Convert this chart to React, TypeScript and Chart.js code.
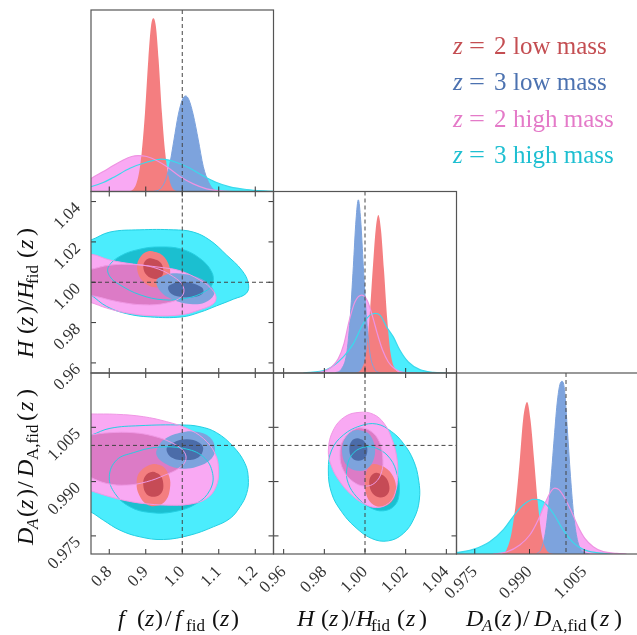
import React, { useEffect, useRef } from "react";
import { Chart, registerables } from "chart.js";
Chart.register(...registerables);

type Pt = [number, number];

// ---------------- axes ----------------
const FIDUCIAL = 1.0;
const F_RANGE: Pt = [0.75, 1.25];
const H_RANGE: Pt = [0.955, 1.045];
const DA_RANGE: Pt = [0.97, 1.02];
const F_TICKS = [0.8, 0.9, 1.0, 1.1, 1.2];
const H_TICKS = [0.96, 0.98, 1.0, 1.02, 1.04];
const DA_TICKS = [0.975, 0.99, 1.005];

// ---------------- legend ----------------
const LEGEND_Z = ["2", "3", "2", "3"];
const LEGEND_MASS = ["low mass", "low mass", "high mass", "high mass"];

// ---------------- 1D marginals (x, normalised height) ----------------
const F_RED: Pt[] = [[0.8476,0],[0.8658,0.0128],[0.8795,0.0826],[0.8887,0.211],[0.8978,0.431],[0.9069,0.725],[0.9142,0.908],[0.9206,0.954],[0.9279,0.908],[0.9353,0.725],[0.9444,0.431],[0.9535,0.211],[0.9627,0.0826],[0.9754,0.0128],[0.9937,0]];
const F_BLUE: Pt[] = [[0.9206,0],[0.9389,0.0128],[0.9526,0.055],[0.9645,0.1376],[0.9773,0.2844],[0.9891,0.422],[1.0001,0.5046],[1.0092,0.5266],[1.0184,0.5046],[1.0302,0.422],[1.0439,0.2844],[1.0576,0.1376],[1.0713,0.055],[1.085,0.0128],[1.1033,0]];
const F_PINK: Pt[] = [[0.7197,0.0275],[0.7517,0.0734],[0.7836,0.11],[0.811,0.143],[0.8384,0.174],[0.8613,0.193],[0.8795,0.198],[0.9024,0.193],[0.9298,0.171],[0.9572,0.1376],[0.9937,0.0826],[1.0302,0.042],[1.0668,0.0147],[1.1033,0.0037],[1.1581,0],[1.2494,0]];
const F_CYAN: Pt[] = [[0.7197,0.0128],[0.7517,0.0275],[0.7836,0.0495],[0.811,0.0771],[0.8567,0.128],[0.9024,0.161],[0.9435,0.178],[0.9846,0.16],[1.0211,0.128],[1.0576,0.0862],[1.0941,0.0495],[1.1307,0.0257],[1.1763,0.011],[1.222,0.0037],[1.2676,0]];

const H_BLUE: Pt[] = [[0.98525,0],[0.98853,0.0239],[0.99099,0.107],[0.99263,0.291],[0.99426,0.586],[0.99558,0.843],[0.99672,0.954],[0.99787,0.843],[0.99918,0.586],[1.00082,0.291],[1.00246,0.107],[1.00459,0.0239],[1.00737,0]];
const H_RED: Pt[] = [[0.99508,0],[0.99836,0.0239],[1.00049,0.107],[1.00213,0.291],[1.00377,0.567],[1.00524,0.788],[1.00656,0.871],[1.00787,0.788],[1.00934,0.567],[1.01098,0.291],[1.01262,0.107],[1.01475,0.0239],[1.01803,0]];
const H_PINK: Pt[] = [[0.97296,0],[0.97951,0.0074],[0.98361,0.0331],[0.98689,0.0792],[0.98968,0.162],[0.9923,0.291],[0.99508,0.392],[0.99836,0.429],[1.00115,0.398],[1.00377,0.309],[1.00606,0.217],[1.00869,0.125],[1.01147,0.0608],[1.01475,0.0221],[1.01884,0.0037],[1.0254,0]];
const H_CYAN: Pt[] = [[0.96968,0],[0.98116,0.0184],[0.98935,0.0884],[0.99426,0.162],[0.99918,0.273],[1.00246,0.319],[1.00492,0.328],[1.00737,0.319],[1.01065,0.254],[1.01393,0.199],[1.0172,0.125],[1.0213,0.0608],[1.027,0.0184],[1.0336,0.0037],[1.0401,0]];

const DA_BLUE: Pt[] = [[0.99191,0],[0.99328,0.0314],[0.99447,0.133],[0.99557,0.336],[0.99666,0.6125],[0.99758,0.834],[0.99831,0.935],[0.99895,0.954],[0.99959,0.908],[1.00032,0.705],[1.00123,0.428],[1.00215,0.2066],[1.00324,0.0683],[1.00471,0.0129],[1.00653,0]];
const DA_RED: Pt[] = [[0.98231,0],[0.98369,0.0221],[0.98506,0.114],[0.98624,0.28],[0.98734,0.52],[0.98825,0.742],[0.98935,0.8395],[0.99027,0.742],[0.99127,0.52],[0.99228,0.28],[0.99328,0.114],[0.99465,0.0221],[0.99648,0]];
const DA_PINK: Pt[] = [[0.98003,0],[0.98369,0.0111],[0.98734,0.0498],[0.99008,0.105],[0.99237,0.188],[0.99447,0.29],[0.99602,0.3506],[0.99694,0.3635],[0.99813,0.354],[0.99968,0.308],[1.00151,0.234],[1.00333,0.151],[1.00516,0.0867],[1.00745,0.0406],[1.01019,0.0129],[1.01385,0.0037],[1.01659,0]];
const DA_CYAN: Pt[] = [[0.965,0.002],[0.96998,0.0074],[0.97454,0.0258],[0.97911,0.0683],[0.98277,0.133],[0.98551,0.2066],[0.98825,0.271],[0.99127,0.3026],[0.99374,0.2897],[0.99648,0.225],[0.99922,0.133],[1.00196,0.0627],[1.00471,0.0258],[1.00836,0.0074],[1.01293,0]];

// ---------------- 2D contours: f vs H ----------------
const FH_CYAN_2: Pt[] = [[0.683,1.0175],[0.749,1.0209],[0.802,1.0249],[0.884,1.026],[0.975,1.026],[1.03,1.0249],[1.076,1.0208],[1.122,1.0134],[1.163,1.006],[1.181,0.9995],[1.176,0.9946],[1.14,0.9916],[1.094,0.9883],[1.048,0.9851],[0.998,0.9828],[0.912,0.9828],[0.848,0.9844],[0.793,0.988],[0.749,0.9938],[0.683,1.0011]];
const FH_CYAN_1: Pt[] = [[0.7973,1.0074],[0.8293,1.0129],[0.8841,1.0164],[0.9389,1.0175],[0.9983,1.0164],[1.0485,1.0118],[1.0805,1.0052],[1.0832,0.9995],[1.0622,0.9954],[1.0121,0.9921],[0.948,0.9913],[0.8841,0.9938],[0.8293,0.9987],[0.8019,1.0028]];
const FH_PINK_2: Pt[] = [[0.683,1.013],[0.749,1.0139],[0.802,1.011],[0.866,1.009],[0.939,1.0074],[0.9937,1.0057],[1.0485,1.0011],[1.0759,0.9975],[1.0923,0.9929],[1.0849,0.9893],[1.0439,0.9861],[0.9983,0.9839],[0.9205,0.9834],[0.8476,0.9848],[0.7928,0.9872],[0.749,0.99],[0.683,0.993]];
const FH_PINK_1: Pt[] = [[0.683,1.0045],[0.749,1.0064],[0.802,1.0085],[0.866,1.0088],[0.9205,1.0074],[0.9754,1.0028],[1.0028,0.9978],[0.9983,0.9929],[0.957,0.9897],[0.8932,0.9888],[0.82,0.9905],[0.7654,0.9929],[0.683,0.996]];
const FH_RED_2: Pt[] = [[0.907,1.0154],[0.9389,1.0142],[0.9617,1.0093],[0.9663,1.0036],[0.9526,0.9987],[0.9252,0.9975],[0.8932,1.0003],[0.8768,1.006],[0.8823,1.0118]];
const FH_RED_1: Pt[] = [[0.9161,1.0118],[0.9389,1.0101],[0.948,1.0064],[0.9434,1.0028],[0.9252,1.0016],[0.9024,1.0036],[0.8932,1.0077],[0.9006,1.011]];
const FH_BLUE_2: Pt[] = [[0.9298,1.0011],[0.957,1.0039],[1.0028,1.0041],[1.0485,1.002],[1.0805,0.9978],[1.0868,0.9938],[1.0622,0.99],[1.0211,0.9892],[0.9754,0.9913],[0.9407,0.9954]];
const FH_BLUE_1: Pt[] = [[0.9617,0.9978],[0.9847,1.0],[1.0211,0.9998],[1.0531,0.9975],[1.0575,0.9949],[1.0394,0.9929],[1.0028,0.9926],[0.9709,0.9942]];

// ---------------- 2D contours: f vs D_A ----------------
const FD_CYAN_2: Pt[] = [[0.683,1.00056],[0.7517,1.00287],[0.8019,1.00471],[0.8841,1.00545],[0.9983,1.00564],[1.0485,1.00517],[1.0941,1.00351],[1.14,0.99964],[1.1718,0.99503],[1.181,0.99088],[1.1764,0.98672],[1.1581,0.98304],[1.1307,0.97981],[1.0849,0.9775],[1.0211,0.9752],[0.948,0.974],[0.8841,0.97474],[0.8293,0.97658],[0.7837,0.97935],[0.749,0.98165],[0.683,0.98488]];
const FD_CYAN_1: Pt[] = [[0.8001,0.99134],[0.82,0.99595],[0.8657,0.99798],[0.9298,0.99946],[1.0028,0.99918],[1.0575,0.99687],[1.0832,0.99226],[1.0759,0.98765],[1.0394,0.98396],[0.9754,0.98165],[0.9115,0.98147],[0.8567,0.98304],[0.8156,0.98672]];
const FD_PINK_2: Pt[] = [[0.683,1.00887],[0.749,1.00868],[0.82,1.00859],[0.8932,1.00794],[0.957,1.00656],[1.0121,1.00471],[1.0575,1.00195],[1.0896,0.9978],[1.0996,0.99318],[1.0923,0.98857],[1.0668,0.98534],[1.0211,0.98377],[0.957,0.9835],[0.8932,0.98396],[0.8384,0.98488],[0.7928,0.98607],[0.749,0.98747],[0.683,0.98949]];
const FD_PINK_1: Pt[] = [[0.683,1.00148],[0.749,1.00287],[0.8019,1.00351],[0.8657,1.00351],[0.9205,1.00259],[0.9709,1.00075],[1.0028,0.99853],[1.0101,0.99613],[0.9937,0.99392],[0.9526,0.9918],[0.9024,0.98995],[0.8476,0.98903],[0.7928,0.98949],[0.749,0.99115],[0.683,0.9941]];
const FD_RED_2: Pt[] = [[0.9205,0.99484],[0.948,0.9941],[0.9645,0.99134],[0.9663,0.98811],[0.9553,0.98488],[0.9298,0.98331],[0.9024,0.98377],[0.8823,0.98626],[0.875,0.98949],[0.8841,0.99272]];
const FD_RED_1: Pt[] = [[0.9188,0.99272],[0.9389,0.9918],[0.948,0.98949],[0.9434,0.98691],[0.9252,0.9858],[0.9024,0.98654],[0.8932,0.98903],[0.8988,0.99152]];
const FD_BLUE_2: Pt[] = [[0.9298,0.99872],[0.948,1.00148],[0.9937,1.00351],[1.0394,1.00379],[1.0759,1.00223],[1.0896,0.99918],[1.0805,0.99641],[1.0394,0.9941],[0.9937,0.99364],[0.9526,0.99503],[0.9316,0.99687]];
const FD_BLUE_1: Pt[] = [[0.957,0.99909],[0.9754,1.00075],[1.0121,1.00167],[1.0467,1.00075],[1.0575,0.99909],[1.0439,0.99669],[1.0074,0.99595],[0.9709,0.99669]];

// ---------------- 2D contours: H vs D_A ----------------
const HD_CYAN_2: Pt[] = [[0.98197,0.99318],[0.98361,0.99872],[0.98935,1.00287],[0.99754,1.00536],[1.00574,1.00591],[1.01311,1.00379],[1.01884,1.00056],[1.02376,0.99595],[1.02638,0.99041],[1.02671,0.98488],[1.02409,0.97981],[1.01884,0.97566],[1.01147,0.97363],[1.00328,0.97428],[0.99508,0.9775],[0.98853,0.98165],[0.98361,0.98672]];
const HD_CYAN_1: Pt[] = [[0.99099,0.99318],[0.99345,0.99733],[0.99918,0.99946],[1.00574,0.99918],[1.01229,0.99641],[1.0159,0.9918],[1.01688,0.98718],[1.01475,0.9835],[1.00901,0.98193],[1.00246,0.98285],[0.9959,0.9858],[0.9918,0.98949]];
const HD_PINK_2: Pt[] = [[0.99754,1.00914],[1.0041,1.00859],[1.00934,1.0061],[1.01311,1.00195],[1.01557,0.99687],[1.01606,0.99134],[1.01475,0.98672],[1.01147,0.98396],[1.00574,0.98285],[0.99918,0.98396],[0.99263,0.98672],[0.98771,0.98995],[0.98361,0.9941],[0.98197,0.99872],[0.98443,1.00425],[0.99017,1.00794]];
const HD_PINK_1: Pt[] = [[0.9959,1.00471],[1.00246,1.00407],[1.00705,1.00102],[1.00869,0.99687],[1.0082,0.99272],[1.00492,0.98968],[1.0,0.98875],[0.99426,0.98995],[0.98935,0.99318],[0.98771,0.99733],[0.98935,1.00148]];
const HD_RED_2: Pt[] = [[1.0041,0.99484],[1.00983,0.99392],[1.01393,0.99134],[1.01524,0.98765],[1.01311,0.98442],[1.0082,0.98304],[1.00328,0.98396],[1.00049,0.98672],[1.0,0.99041],[1.00115,0.99337]];
const HD_RED_1: Pt[] = [[1.00574,0.99244],[1.00983,0.99134],[1.01196,0.98875],[1.01098,0.98645],[1.00737,0.98562],[1.00377,0.98672],[1.00213,0.98931],[1.00295,0.99152]];
const HD_BLUE_2: Pt[] = [[0.99672,1.00425],[1.00164,1.00333],[1.00459,1.0001],[1.00443,0.99641],[1.00115,0.99364],[0.99623,0.993],[0.99131,0.99429],[0.98886,0.99733],[0.98935,1.00102],[0.9923,1.00351]];
const HD_BLUE_1: Pt[] = [[0.99623,1.00195],[0.99951,1.00121],[1.00115,0.99909],[1.0,0.9966],[0.99672,0.99576],[0.99345,0.99669],[0.9923,0.99909],[0.99345,1.00121]];

// ---------------- styling ----------------
const FONT = '"Liberation Serif", "Times New Roman", serif';
const COL = {
  cyanOuter: "#4bedfd", cyanInner: "#1bbfd0",
  pinkOuter: "#f9a9f3", pinkInner: "#dc7bc6",
  redOuter: "#f47e80", redInner: "#c64b56",
  blueOuter: "#7da3dd", blueInner: "#4b6ca9",
  cyanLine: "#25cfe2", pinkLine: "#ef98e4",
  cyan1DLine: "#3ad9ec", pink1DLine: "#ee93e2",
};
const LEGEND_COLORS = ["#c44e52", "#4c72b0", "#e47ac8", "#1ebfd1"];

const CW = 660;
const CH = 635;
const COLS = [91, 273.5, 456.5, 639];
const ROWS = [10, 191.5, 373, 554];

const T = "rgba(0,0,0,0)";
const xy = (p: Pt) => ({ x: p[0], y: p[1] });

function fillShape(pts: Pt[], color: string) {
  const arr = [...pts, pts[0], pts[1]];
  return { data: arr.map(xy), fill: "shape", backgroundColor: color, borderColor: T, borderWidth: 0, pointRadius: 0, tension: 0.4 };
}
function strokeShape(pts: Pt[], color: string) {
  const n = pts.length;
  const arr = [pts[n - 1], ...pts, pts[0], pts[1]];
  const last = arr.length - 1;
  return {
    data: arr.map(xy), fill: false, borderColor: color, borderWidth: 1, pointRadius: 0, tension: 0.4,
    segment: { borderColor: (c: any) => (c.p0DataIndex === 0 || c.p1DataIndex === last ? T : undefined) },
  };
}
function area1D(pts: Pt[], color: string) {
  return { data: pts.map(xy), fill: "origin", backgroundColor: color, borderColor: T, borderWidth: 0, pointRadius: 0, cubicInterpolationMode: "monotone" };
}
function line1D(pts: Pt[], color: string, w = 1.2) {
  return { data: pts.map(xy), fill: false, borderColor: color, borderWidth: w, pointRadius: 0, cubicInterpolationMode: "monotone" };
}
function ordered(list: any[]) {
  return list.map((d, i) => ({ ...d, order: list.length - i }));
}
function oneD(cyan: Pt[], pink: Pt[], red: Pt[], blue: Pt[]) {
  return ordered([
    area1D(cyan, COL.cyanOuter), area1D(pink, COL.pinkOuter), area1D(blue, COL.blueOuter), area1D(red, COL.redOuter),
    line1D(blue, COL.blueOuter, 1), line1D(cyan, COL.cyan1DLine), line1D(pink, COL.pink1DLine),
  ]);
}
function twoD(c2: Pt[], c1: Pt[], p2: Pt[], p1: Pt[], r2: Pt[], r1: Pt[], b2: Pt[], b1: Pt[]) {
  return ordered([
    fillShape(c2, COL.cyanOuter), fillShape(c1, COL.cyanInner), fillShape(p2, COL.pinkOuter), fillShape(p1, COL.pinkInner),
    fillShape(r2, COL.redOuter), fillShape(r1, COL.redInner), fillShape(b2, COL.blueOuter), fillShape(b1, COL.blueInner),
    strokeShape(c2, COL.cyanLine), strokeShape(c1, COL.cyanLine), strokeShape(p2, COL.pinkLine), strokeShape(p1, COL.pinkLine),
  ]);
}

// math-like titles: [text, x offset, flags(1 italic, 2 subscript)]
type Seg = [string, number, number];
const TITLE_F: Seg[] = [["f", 0, 1], ["(", 19, 0], ["z", 27, 1], [")", 37, 0], ["/", 47, 0], ["f", 57, 1], ["fid", 68, 2], ["(", 94, 0], ["z", 102, 1], [")", 113, 0]];
const TITLE_H: Seg[] = [["H", 0, 1], ["(", 24, 0], ["z", 32, 1], [")", 44, 0], ["/", 52, 0], ["H", 59, 1], ["fid", 74, 2], ["(", 100, 0], ["z", 109, 1], [")", 122, 0]];
const TITLE_DA: Seg[] = [["D", 0, 1], ["A", 16, 3], ["(", 28, 0], ["z", 36, 1], [")", 48, 0], ["/", 57, 0], ["D", 68, 1], ["A,fid", 85, 2], ["(", 124, 0], ["z", 134, 1], [")", 148, 0]];

function drawTitle(ctx: CanvasRenderingContext2D, segs: Seg[], x0: number, y0: number, rotated: boolean) {
  ctx.save();
  ctx.translate(x0, y0);
  if (rotated) ctx.rotate(-Math.PI / 2);
  ctx.fillStyle = "#111";
  ctx.textAlign = "left";
  ctx.textBaseline = "alphabetic";
  for (const [t, off, f] of segs) {
    ctx.font = `${f & 1 ? "italic " : ""}${f & 2 ? 17 : 24}px ${FONT}`;
    ctx.fillText(t, off, f & 2 ? 5 : 0);
  }
  ctx.restore();
}

function drawLegend(ctx: CanvasRenderingContext2D) {
  ctx.save();
  ctx.textAlign = "left";
  ctx.textBaseline = "alphabetic";
  for (let i = 0; i < LEGEND_Z.length; i++) {
    const y = 53.5 + i * 36.5;
    ctx.fillStyle = LEGEND_COLORS[i];
    ctx.font = `italic 25px ${FONT}`;
    ctx.fillText("z", 453, y);
    ctx.font = `25px ${FONT}`;
    ctx.save();
    ctx.translate(469, y);
    ctx.scale(1.13, 1);
    ctx.fillText("=", 0, 0);
    ctx.restore();
    ctx.fillText(LEGEND_Z[i], 494, y);
    ctx.fillText(LEGEND_MASS[i], 513, y);
  }
  ctx.restore();
}

type Axis = { min: number; max: number; ticks: number[]; dec: number };
const AX_F: Axis = { min: F_RANGE[0], max: F_RANGE[1], ticks: F_TICKS, dec: 1 };
const AX_H: Axis = { min: H_RANGE[0], max: H_RANGE[1], ticks: H_TICKS, dec: 2 };
const AX_DA: Axis = { min: DA_RANGE[0], max: DA_RANGE[1], ticks: DA_TICKS, dec: 3 };
const AX_P: Axis = { min: 0, max: 1, ticks: [], dec: 0 };

type Panel = {
  col: number; row: number; x: Axis; y: Axis; diag: boolean; xLab: boolean; yLab: boolean;
  datasets: any[]; vx?: number; hy?: number; texts?: (ctx: CanvasRenderingContext2D) => void;
};

const PANELS: Panel[] = [
  { col: 0, row: 0, x: AX_F, y: AX_P, diag: true, xLab: false, yLab: false, vx: FIDUCIAL,
    datasets: oneD(F_CYAN, F_PINK, F_RED, F_BLUE), texts: drawLegend },
  { col: 0, row: 1, x: AX_F, y: AX_H, diag: false, xLab: false, yLab: true, vx: FIDUCIAL, hy: FIDUCIAL,
    datasets: twoD(FH_CYAN_2, FH_CYAN_1, FH_PINK_2, FH_PINK_1, FH_RED_2, FH_RED_1, FH_BLUE_2, FH_BLUE_1),
    texts: (ctx) => drawTitle(ctx, TITLE_H, 33, 358, true) },
  { col: 0, row: 2, x: AX_F, y: AX_DA, diag: false, xLab: true, yLab: true, vx: FIDUCIAL, hy: FIDUCIAL,
    datasets: twoD(FD_CYAN_2, FD_CYAN_1, FD_PINK_2, FD_PINK_1, FD_RED_2, FD_RED_1, FD_BLUE_2, FD_BLUE_1),
    texts: (ctx) => { drawTitle(ctx, TITLE_F, 118, 626, false); drawTitle(ctx, TITLE_DA, 33, 545, true); } },
  { col: 1, row: 1, x: AX_H, y: AX_P, diag: true, xLab: false, yLab: false, vx: FIDUCIAL,
    datasets: oneD(H_CYAN, H_PINK, H_RED, H_BLUE) },
  { col: 1, row: 2, x: AX_H, y: AX_DA, diag: false, xLab: true, yLab: false, vx: FIDUCIAL, hy: FIDUCIAL,
    datasets: twoD(HD_CYAN_2, HD_CYAN_1, HD_PINK_2, HD_PINK_1, HD_RED_2, HD_RED_1, HD_BLUE_2, HD_BLUE_1),
    texts: (ctx) => drawTitle(ctx, TITLE_H, 297, 626, false) },
  { col: 2, row: 2, x: AX_DA, y: AX_P, diag: true, xLab: true, yLab: false, vx: FIDUCIAL,
    datasets: oneD(DA_CYAN, DA_PINK, DA_RED, DA_BLUE),
    texts: (ctx) => drawTitle(ctx, TITLE_DA, 466, 626, false) },
];

function buildConfig(p: Panel): any {
  const L = COLS[p.col], R = COLS[p.col + 1], Tp = ROWS[p.row], B = ROWS[p.row + 1];
  const XH = 50, YW = 60;
  const padding = {
    top: Tp,
    right: CW - R,
    left: p.yLab ? L - YW : L,
    bottom: p.xLab ? CH - B - XH : CH - B,
  };
  const tickFont = { family: FONT, size: 17 };
  const deco = {
    id: "deco",
    afterDatasetsDraw(chart: any) {
      const { ctx, chartArea: ca, scales } = chart;
      const xs = scales.x, ys = scales.y;
      ctx.save();
      ctx.strokeStyle = "#444";
      ctx.lineWidth = 1;
      ctx.setLineDash([4, 3]);
      if (p.vx !== undefined) {
        const X = xs.getPixelForValue(p.vx);
        ctx.beginPath(); ctx.moveTo(X, ca.top); ctx.lineTo(X, ca.bottom); ctx.stroke();
      }
      if (p.hy !== undefined) {
        const Y = ys.getPixelForValue(p.hy);
        ctx.beginPath(); ctx.moveTo(ca.left, Y); ctx.lineTo(ca.right, Y); ctx.stroke();
      }
      ctx.setLineDash([]);
      ctx.strokeStyle = "#333";
      ctx.beginPath();
      for (const v of p.x.ticks) {
        const X = xs.getPixelForValue(v);
        ctx.moveTo(X, ca.bottom); ctx.lineTo(X, ca.bottom - 5);
        if (!p.diag) { ctx.moveTo(X, ca.top); ctx.lineTo(X, ca.top + 5); }
      }
      if (!p.diag) {
        for (const v of p.y.ticks) {
          const Y = ys.getPixelForValue(v);
          ctx.moveTo(ca.left, Y); ctx.lineTo(ca.left + 5, Y);
          ctx.moveTo(ca.right, Y); ctx.lineTo(ca.right - 5, Y);
        }
      }
      ctx.stroke();
      ctx.strokeStyle = "#555";
      ctx.lineWidth = 1.2;
      ctx.strokeRect(ca.left, ca.top, ca.right - ca.left, ca.bottom - ca.top);
      ctx.restore();
    },
    afterDraw(chart: any) {
      if (p.texts) p.texts(chart.ctx);
    },
  };
  const axisCommon = (ax: Axis, show: boolean, isX: boolean) => ({
    type: "linear",
    min: ax.min,
    max: ax.max,
    display: show,
    position: isX ? "bottom" : "left",
    grid: { display: false, drawTicks: false },
    border: { display: false },
    ticks: {
      autoSkip: false, minRotation: 45, maxRotation: 45,
      padding: isX ? 8 : 13,
      labelOffset: isX ? 0 : 4,
      font: tickFont, color: "#333",
      callback: (v: any) => Number(v).toFixed(ax.dec),
    },
    afterBuildTicks: (s: any) => { s.ticks = ax.ticks.map((v) => ({ value: v })); },
    afterFit: (s: any) => {
      if (!show) return;
      if (isX) s.height = XH; else s.width = YW;
    },
  });
  return {
    type: "line",
    data: { datasets: p.datasets },
    options: {
      responsive: false,
      animation: false,
      events: [],
      layout: { padding, autoPadding: false },
      plugins: { legend: { display: false }, tooltip: { enabled: false }, title: { display: false } },
      scales: { x: axisCommon(p.x, p.xLab, true), y: axisCommon(p.y, p.yLab, false) },
    },
    plugins: [deco],
  };
}

export default function App() {
  const refs = useRef<(HTMLCanvasElement | null)[]>([]);
  useEffect(() => {
    const charts = PANELS.map((p, i) => new Chart(refs.current[i] as HTMLCanvasElement, buildConfig(p)));
    return () => charts.forEach((c) => c.destroy());
  }, []);
  return (
    <div style={{ position: "fixed", left: 0, top: 0, width: 637, height: 635, overflow: "hidden", background: "#fff" }}>
      {PANELS.map((_, i) => (
        <canvas
          key={i}
          ref={(el) => { refs.current[i] = el; }}
          width={CW}
          height={CH}
          style={{ position: "absolute", left: 0, top: 0, width: CW, height: CH }}
        />
      ))}
    </div>
  );
}
